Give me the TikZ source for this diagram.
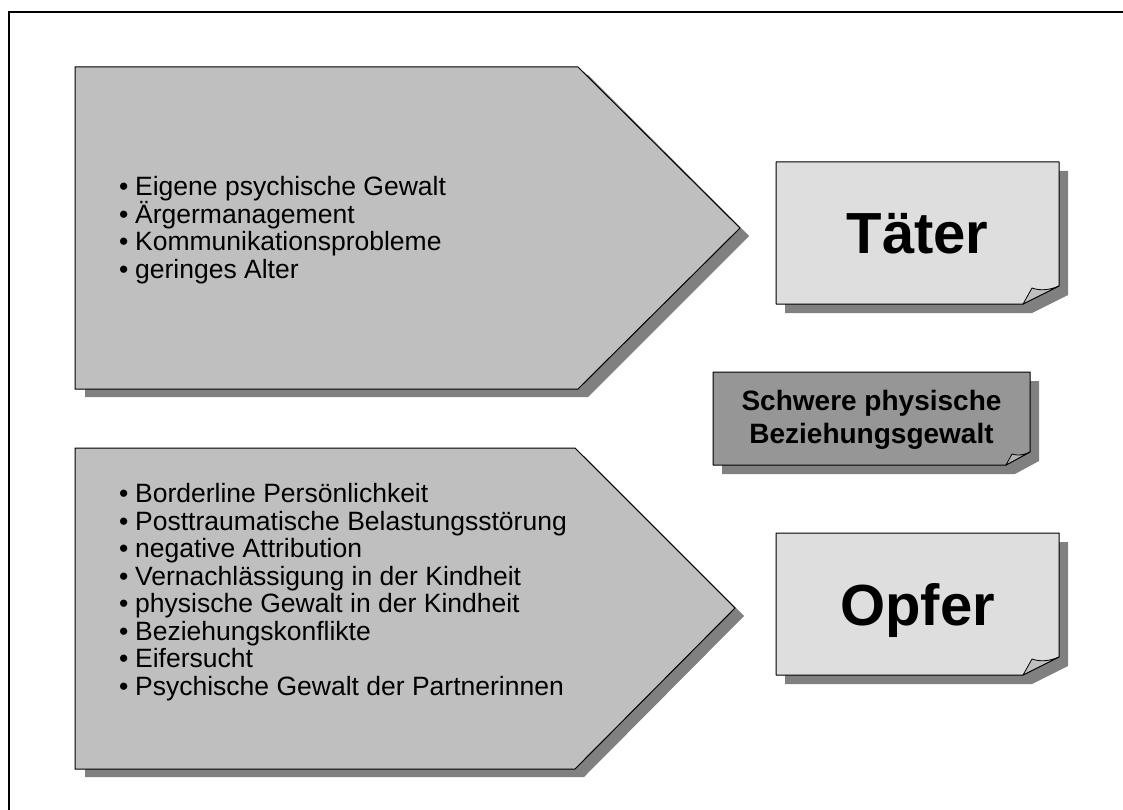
\documentclass[tikz,border=0pt]{standalone}
\usepackage{fontspec}
\setmainfont{Liberation Sans}
\begin{document}
\begin{tikzpicture}[x=1pt,y=-1pt,
  shade/.style={fill=black!50,draw=none},
  arrowbody/.style={fill=black!25,draw=black,line width=1pt,line join=miter},
  notebody/.style={draw=black,line width=1pt,line join=round},
  flap/.style={fill=black!25,draw=black,line width=0.8pt,line join=round},
  listline/.style={anchor=base west,inner sep=0pt,font=\fontsize{26.5}{27.5}\selectfont},
  bigword/.style={anchor=base,inner sep=0pt,font=\fontsize{58}{62}\selectfont\bfseries},
  midword/.style={anchor=base,inner sep=0pt,font=\fontsize{28}{32}\selectfont\bfseries}]
\useasboundingbox (0,0) rectangle (1123,810);
% frame
\draw[line width=2pt] (9,810) -- (9,12) -- (1123,12);

% upper arrow
\fill[shade] (85,75) -- (588,75) -- (749,236) -- (588,397) -- (85,397) -- cycle;
\draw[arrowbody] (75,67) -- (578,67) -- (740,228) -- (578,389) -- (75,389) -- cycle;
% lower arrow
\fill[shade] (85,456) -- (584,456) -- (744,616) -- (584,777) -- (85,777) -- cycle;
\draw[arrowbody] (75,448) -- (575,448) -- (735,608) -- (575,769) -- (75,769) -- cycle;

% upper list
\foreach \t [count=\i] in {Eigene psychische Gewalt,Ärgermanagement,Kommunikationsprobleme,geringes Alter}
  \node[listline] (a\i) at (119,168+27.5*\i) {\makebox[16pt][l]{\textbullet}\t};
% lower list
\foreach \t [count=\i] in {Borderline Persönlichkeit,Posttraumatische Belastungsstörung,negative Attribution,Vernachlässigung in der Kindheit,physische Gewalt in der Kindheit,Beziehungskonflikte,Eifersucht,Psychische Gewalt der Partnerinnen}
  \node[listline] (b\i) at (119,475+27.5*\i) {\makebox[16pt][l]{\textbullet}\t};

% note: Täter
\fill[shade] (785,171) -- (1068,171) -- (1068,295) -- (1032,313) -- (785,313) -- cycle;
\draw[notebody,fill=black!13] (776,162) -- (1059,162) -- (1059,286) -- (1023,304) -- (776,304) -- cycle;
\draw[flap] (1023,304) -- (1032,288) .. controls (1040,291) and (1050,290) .. (1059,286) -- cycle;
\node[bigword] (taeter) at (917.5,254) {Täter};

% note: Schwere physische Beziehungsgewalt
\fill[shade] (722,381) -- (1039,381) -- (1039,461) -- (1015,474) -- (722,474) -- cycle;
\draw[notebody,fill=black!41] (713,372) -- (1030,372) -- (1030,452) -- (1006,465) -- (713,465) -- cycle;
\draw[flap,fill=black!30] (1006,465) -- (1012,454) .. controls (1018,456) and (1024,455) .. (1030,452) -- cycle;
\node[midword] (g1) at (871.5,410) {Schwere physische};
\node[midword] (g2) at (871.5,443) {Beziehungsgewalt};

% note: Opfer
\fill[shade] (785,542) -- (1068,542) -- (1068,666) -- (1032,684) -- (785,684) -- cycle;
\draw[notebody,fill=black!13] (776,533) -- (1059,533) -- (1059,657) -- (1023,675) -- (776,675) -- cycle;
\draw[flap] (1023,675) -- (1032,659) .. controls (1040,662) and (1050,661) .. (1059,657) -- cycle;
\node[bigword] (opfer) at (917.5,625) {Opfer};
\end{tikzpicture}
\end{document}
